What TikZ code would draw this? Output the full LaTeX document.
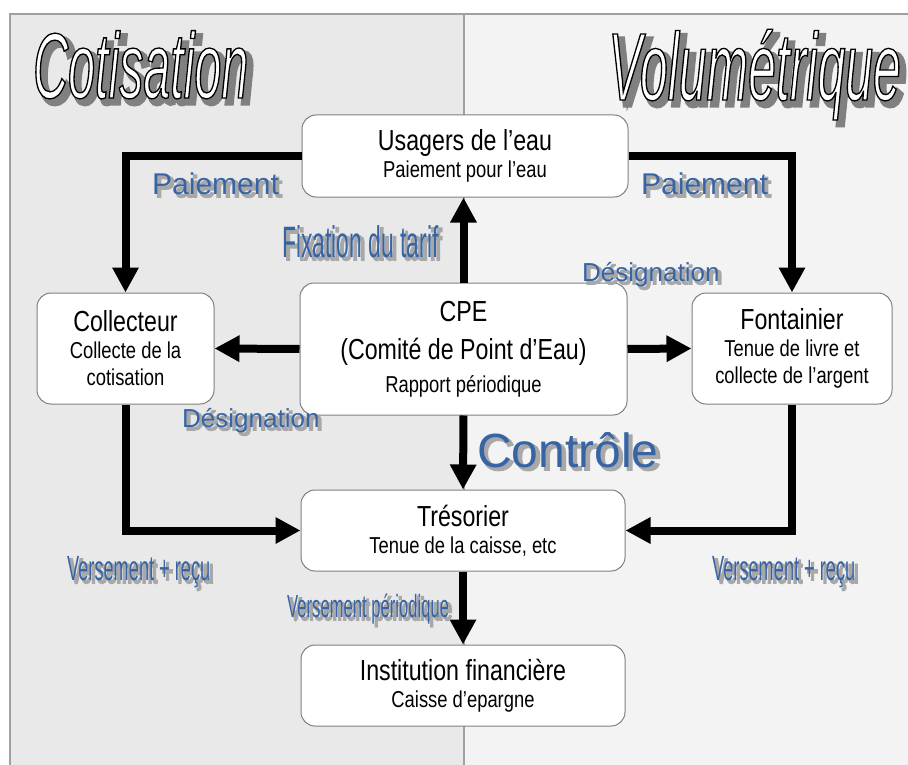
\documentclass[tikz,border=0pt]{standalone}
\usepackage{fontspec}
\setmainfont{Liberation Sans}
\newfontfamily\boxfont[FakeStretch=0.8]{Liberation Sans}
\newfontfamily\narrowfont[FakeStretch=0.52]{Liberation Sans}
\usetikzlibrary{arrows.meta}

\definecolor{leftbg}{RGB}{233,233,233}
\definecolor{rightbg}{RGB}{243,243,243}
\definecolor{framecol}{RGB}{160,160,160}
\definecolor{boxborder}{RGB}{128,128,128}
\definecolor{lblue}{RGB}{55,100,165}
\definecolor{lblshadow}{RGB}{168,168,168}
\definecolor{titleshadow}{RGB}{128,128,128}

% text render modes (fill + stroke) through xdvipdfmx literals
\newcommand\strokedon[1]{\special{pdf:literal direct 2 Tr #1 w}}
\newcommand\strokedoff{\special{pdf:literal direct 0 Tr}}
% blue label with a grey drop shadow
\newcommand\shlabel[1]{\makebox[0pt][l]{\raisebox{-3pt}{\hspace{3pt}\textcolor{lblshadow}{\strokedon{1.8}#1\strokedoff}}}\textcolor{lblue}{#1}}
% outlined title with a grey drop shadow
\newcommand\titletext[1]{\makebox[0pt][l]{\raisebox{-5pt}{\hspace{5pt}\textcolor{titleshadow}{\strokedon{5}#1\strokedoff}}}\textcolor{white}{\special{pdf:literal direct 2 Tr 1.3 w 0 G}#1\strokedoff}}
\newcommand\boxhead[1]{{\fontsize{29}{26}\selectfont #1}}

\tikzset{
  box/.style={draw=boxborder, line width=1pt, fill=white, rounded corners=14pt,
    align=center, inner sep=0pt, font=\boxfont\fontsize{23}{27}\selectfont},
  flow/.style={line width=8pt, -{Triangle[length=25pt,width=25pt]}},
  lbl/.style={inner sep=0pt, anchor=base west},
}

\begin{document}
\begin{tikzpicture}[x=1pt,y=-1pt]
\useasboundingbox (0,0) rectangle (908,765);

% panels and frame
\fill[white] (0,0) rectangle (908,765);
\fill[leftbg] (10,14) rectangle (464,765);
\fill[rightbg] (464,14) rectangle (908,765);
\draw[framecol, line width=1.5pt] (10,765) -- (10,14) -- (908,14);
\draw[framecol, line width=1.2pt] (464,14) -- (464,765);

% titles
\node[inner sep=0pt, anchor=base west, font=\narrowfont\itshape\fontsize{93}{93}\selectfont] (cotisation) at (33,98) {\titletext{Cotisation}};
\node[inner sep=0pt, anchor=base east, font=\narrowfont\itshape\fontsize{96}{96}\selectfont] (volumetrique) at (901,100) {\titletext{Volumétrique}};

% boxes
\node[box, minimum width=326pt, minimum height=82pt] (usagers) at (465,156)
  {\boxhead{Usagers de l’eau}\\Paiement pour l’eau};
\node[box, minimum width=327pt, minimum height=132pt] (cpe) at (463.5,349)
  {\boxhead{CPE}\\[11pt]\boxhead{(Comité de Point d’Eau)}\\[6pt]Rapport périodique};
\node[box, minimum width=177pt, minimum height=111pt] (collecteur) at (125.5,348.5)
  {\boxhead{Collecteur}\\Collecte de la\\cotisation};
\node[box, minimum width=200pt, minimum height=111pt] (fontainier) at (792,348.5)
  {\boxhead{Fontainier}\\Tenue de livre et\\collecte de l’argent};
\node[box, minimum width=324pt, minimum height=81pt] (tresorier) at (463,530.5)
  {\boxhead{Trésorier}\\Tenue de la caisse, etc};
\node[box, minimum width=324pt, minimum height=81pt] (institution) at (463,685.5)
  {\boxhead{Institution financière}\\Caisse d’epargne};

% connectors
\draw[flow] (usagers.west) -| (collecteur.north);
\draw[flow] (usagers.east) -| (fontainier.north);
\draw[flow] (cpe.north) -- (cpe.north |- usagers.south);
\draw[flow] (cpe.west) -- (collecteur.east);
\draw[flow] (cpe.east) -- (fontainier.west);
\draw[flow] (cpe.south) -- (tresorier.north);
\draw[flow] (collecteur.south) |- (tresorier.west);
\draw[flow] (fontainier.south) |- (tresorier.east);
\draw[flow] (tresorier.south) -- (institution.north);

% labels
\node[lbl, font=\fontsize{30}{30}\selectfont] (paiementL) at (152,194) {\shlabel{Paiement}};
\node[lbl, font=\fontsize{30}{30}\selectfont] (paiementR) at (641,194) {\shlabel{Paiement}};
\node[lbl, font=\narrowfont\fontsize{44}{44}\selectfont] (fixation) at (282,257) {\shlabel{Fixation du tarif}};
\node[lbl, font=\fontsize{26}{26}\selectfont] (designR) at (582,281) {\shlabel{Désignation}};
\node[lbl, font=\fontsize{26}{26}\selectfont] (designL) at (182,427) {\shlabel{Désignation}};
\node[lbl, font=\fontsize{48}{48}\selectfont] (controle) at (477,467) {\shlabel{Contrôle}};
\node[lbl, font=\narrowfont\fontsize{35}{35}\selectfont] (versL) at (67,580) {\shlabel{Versement + reçu}};
\node[lbl, font=\narrowfont\fontsize{35}{35}\selectfont] (versR) at (712,580) {\shlabel{Versement + reçu}};
\node[lbl, font=\narrowfont\fontsize{32}{32}\selectfont] (versP) at (287,617) {\shlabel{Versement périodique}};
\end{tikzpicture}
\end{document}
